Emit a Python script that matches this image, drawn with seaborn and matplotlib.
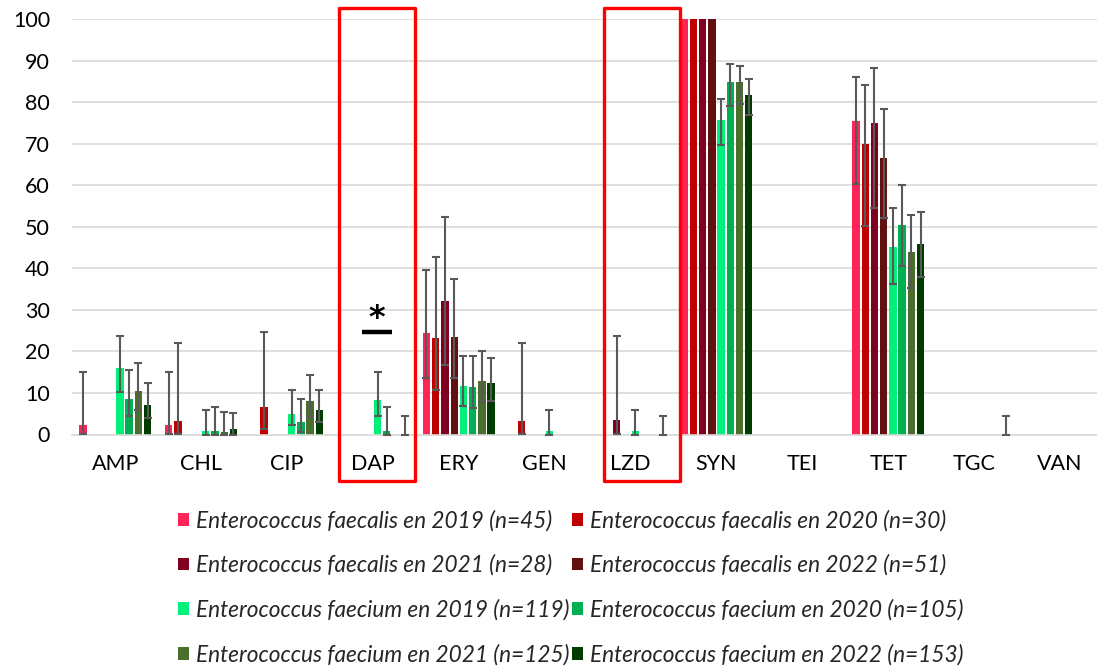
import numpy as np
import pandas as pd
import matplotlib
matplotlib.use('Agg')
import matplotlib.pyplot as plt
import seaborn as sns
from matplotlib.patches import Rectangle
from matplotlib.font_manager import FontProperties

nan = np.nan

categories = ["AMP", "CHL", "CIP", "DAP", "ERY", "GEN", "LZD", "SYN", "TEI", "TET", "TGC", "VAN"]

series_names = [
    "Enterococcus faecalis en 2019 (n=45)",
    "Enterococcus faecalis en 2020 (n=30)",
    "Enterococcus faecalis en 2021 (n=28)",
    "Enterococcus faecalis en 2022 (n=51)",
    "Enterococcus faecium en 2019 (n=119)",
    "Enterococcus faecium en 2020 (n=105)",
    "Enterococcus faecium en 2021 (n=125)",
    "Enterococcus faecium en 2022 (n=153)",
]
colors = ["#ff2457", "#c00000", "#80001f", "#631010",
          "#00f07a", "#00b050", "#4a6e2c", "#003b00"]

# % resistance, per series, in the order of categories
fa2019 = [2.2, 2.2, 0, 0, 24.4, 0, 0, 100, 0, 75.5, 0, 0]
fa2019_lo = [0.1, 0.1, nan, nan, 13.6, nan, nan, nan, nan, 60.3, nan, nan]
fa2019_hi = [15.1, 15.1, nan, nan, 39.5, nan, nan, nan, nan, 86.1, nan, nan]

fa2020 = [0, 3.3, 6.6, 0, 23.3, 3.3, 0, 100, 0, 70.0, 0, 0]
fa2020_lo = [nan, 0.1, 1.4, nan, 10.8, 0.1, nan, nan, nan, 50.3, nan, nan]
fa2020_hi = [nan, 22.1, 24.6, nan, 42.7, 22.1, nan, nan, nan, 84.2, nan, nan]

fa2021 = [0, 0, 0, 0, 32.1, 0, 3.5, 100, 0, 75.0, 0, 0]
fa2021_lo = [nan, nan, nan, nan, 16.7, nan, 0.1, nan, nan, 54.6, nan, nan]
fa2021_hi = [nan, nan, nan, nan, 52.4, nan, 23.6, nan, nan, 88.1, nan, nan]

fa2022 = [0, 0, 0, 0, 23.4, 0, 0, 100, 0, 66.5, 0, 0]
fa2022_lo = [nan, nan, nan, nan, 13.5, nan, nan, nan, nan, 52.1, nan, nan]
fa2022_hi = [nan, nan, nan, nan, 37.5, nan, nan, nan, nan, 78.4, nan, nan]

fm2019 = [15.9, 0.8, 5.0, 8.4, 11.7, 0.8, 0.8, 75.6, 0, 45.2, 0, 0]
fm2019_lo = [10.3, 0, 2.2, 4.4, 6.8, 0, 0, 69.7, nan, 36.3, nan, nan]
fm2019_hi = [23.6, 5.8, 10.7, 15.0, 18.8, 5.8, 5.8, 80.7, nan, 54.4, nan, nan]

fm2020 = [8.6, 0.9, 2.9, 0.9, 11.4, 0, 0, 84.8, 0, 50.4, 0, 0]
fm2020_lo = [4.4, 0, 0.7, 0, 6.4, nan, nan, 79.1, nan, 40.6, nan, nan]
fm2020_hi = [15.6, 6.5, 8.6, 6.5, 19.0, nan, nan, 89.1, nan, 60.0, nan, nan]

fm2021 = [10.4, 0.6, 8.0, 0, 12.8, 0, 0, 84.8, 0, 44.0, 0, 0]
fm2021_lo = [6.0, 0, 4.3, nan, 7.9, nan, nan, 79.6, nan, 35.3, nan, nan]
fm2021_hi = [17.1, 5.5, 14.3, nan, 20.0, nan, nan, 88.8, nan, 52.8, nan, nan]

fm2022 = [7.2, 1.3, 5.9, 0, 12.4, 0, 0, 81.7, 0, 45.8, 0, 0]
fm2022_lo = [4.0, 0, 3.0, 0, 8.0, nan, 0, 76.9, nan, 37.8, 0, nan]
fm2022_hi = [12.4, 5.1, 10.8, 4.5, 18.5, nan, 4.5, 85.5, nan, 53.6, 4.5, nan]

values = [fa2019, fa2020, fa2021, fa2022, fm2019, fm2020, fm2021, fm2022]
lows = [fa2019_lo, fa2020_lo, fa2021_lo, fa2022_lo, fm2019_lo, fm2020_lo, fm2021_lo, fm2022_lo]
highs = [fa2019_hi, fa2020_hi, fa2021_hi, fa2022_hi, fm2019_hi, fm2020_hi, fm2021_hi, fm2022_hi]

df = pd.DataFrame({
    "antibiotique": categories * len(series_names),
    "serie": np.repeat(series_names, len(categories)),
    "pct": np.concatenate(values),
})

sns.set_style("white")
plt.rcParams["font.family"] = ["Lato", "DejaVu Sans"]

W, H = 1097, 667
fig = plt.figure(figsize=(W / 100, H / 100), dpi=100)
ax = fig.add_axes([72.3 / W, (H - 434.5) / H, (1103 - 72.3) / W, 415.5 / H])

sns.barplot(data=df, x="antibiotique", y="pct", hue="serie", order=categories,
            hue_order=series_names, palette=colors, width=0.86, gap=0.21,
            saturation=1, errorbar=None, linewidth=0, ax=ax)

# error bars on top of each bar
for cont, v, lo, hi in zip(ax.containers, values, lows, highs):
    v, lo, hi = np.array(v), np.array(lo), np.array(hi)
    xs = np.array([b.get_x() + b.get_width() / 2 for b in cont])
    m = ~np.isnan(lo)
    ax.errorbar(xs[m], v[m], yerr=[v[m] - lo[m], hi[m] - v[m]], fmt="none",
                ecolor="#595959", elinewidth=1.5, capsize=2.6, capthick=1.5,
                zorder=5, clip_on=False)

ax.set_xlim(-0.5, len(categories) - 0.5)
ax.set_ylim(0, 100)
ax.set_yticks(range(0, 101, 10))
ax.set_xlabel("")
ax.set_ylabel("")
ax.yaxis.grid(True, color="#d9d9d9", lw=1.2)
ax.set_axisbelow(True)
for s in ["top", "right", "left"]:
    ax.spines[s].set_visible(False)
ax.spines["bottom"].set_color("#d9d9d9")
ax.spines["bottom"].set_linewidth(1.2)
ax.tick_params(axis="both", length=0, labelsize=15.5, labelcolor="black")
ax.tick_params(axis="y", pad=16)
ax.tick_params(axis="x", pad=14)

# red highlight boxes around DAP and LZD
tr = ax.get_xaxis_transform()
for idx, left, width in [(categories.index("DAP"), -0.39, 0.88),
                         (categories.index("LZD"), -0.31, 0.885)]:
    ax.add_patch(Rectangle((idx + left, -0.112), width, 1.138, transform=tr,
                           fill=False, edgecolor="#ff0000", lw=2.4,
                           joinstyle="round", clip_on=False, zorder=6))

# significance mark on DAP
d = categories.index("DAP")
ax.plot([d - 0.127, d + 0.222], [24.7, 24.7], color="black", lw=3.2,
        solid_capstyle="butt", zorder=6)
ax.text(d + 0.047, 25.8, "*", ha="center", va="baseline", fontsize=23,
        fontweight="bold", color="black", family="DejaVu Sans")

handles, labels = ax.get_legend_handles_labels()
ax.get_legend().remove()
order = [0, 2, 4, 6, 1, 3, 5, 7]
fig.legend([handles[k] for k in order], [labels[k] for k in order],
           ncol=2, loc="center", bbox_to_anchor=(0.52, 0.119), frameon=False,
           prop=FontProperties(family=["Lato", "DejaVu Sans"], style="italic", size=16.3),
           handlelength=0.5, handleheight=0.5, handletextpad=0.3,
           columnspacing=0.1, labelspacing=1.02)

fig.savefig("out.png", dpi=100)
